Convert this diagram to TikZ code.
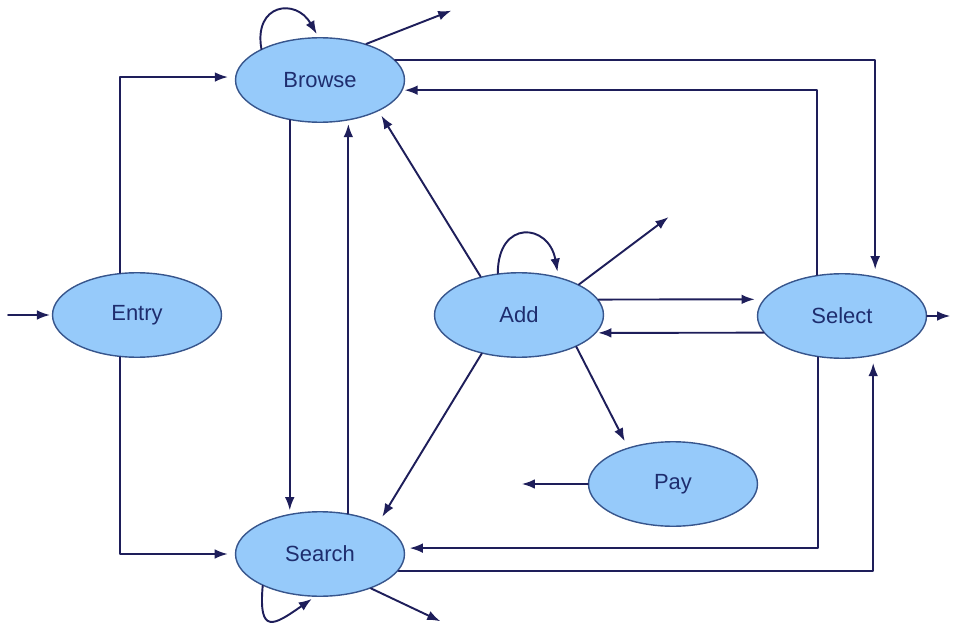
\documentclass[tikz,border=0pt]{standalone}
\usepackage{fontspec}
\setmainfont{Liberation Sans}
\usetikzlibrary{shapes.geometric,arrows.meta}
\definecolor{nen}{RGB}{150,202,250}
\definecolor{vien}{RGB}{55,85,140}
\definecolor{net}{RGB}{30,30,90}
\definecolor{chu}{RGB}{30,45,110}
\begin{document}
\begin{tikzpicture}[x=0.02cm,y=-0.02cm,font=\fontsize{12.5}{15}\selectfont, line join=round, line cap=round, >={Latex[length=7.5pt,width=5.5pt]},
	trangthai/.style={ellipse,draw=vien,fill=nen,line width=0.8pt,text=chu,minimum width=3.38cm,minimum height=1.69cm,inner sep=0pt},
	mui/.style={->,draw=net,line width=1.1pt,shorten >=#1},mui/.default=1pt]
	\useasboundingbox (0,0) rectangle (954,625);
	%%Các trạng thái
	\node[trangthai] (entry) at (137,315) {Entry};
	\node[trangthai] (browse) at (320,80) {Browse};
	\node[trangthai] (search) at (320,554) {Search};
	\node[trangthai] (add) at (519,315) {Add};
	\node[trangthai] (select) at (842,316) {Select};
	\node[trangthai] (pay) at (673,484) {Pay};
	%%Đầu vào, đầu ra
	\coordinate (vao) at (8,315);
	\coordinate (ra1) at (453,10);
	\coordinate (ra2) at (670,216);
	\coordinate (ra3) at (952,316);
	\coordinate (ra4) at (520,484);
	\coordinate (ra5) at (442,622);
	%%Các cạnh
	\draw[mui] (vao) -- (entry.west);
	\draw[mui=4pt] (entry.112) |- (browse.178);
	\draw[mui=4pt] (entry.248) |- (search.west);
	\draw[mui=2pt] (browse.152) to[out=100,in=120,looseness=2] (browse.92);
	\draw[mui] (browse.38) -- (ra1);
	\draw[mui=4pt] (browse.15) -| (select.50);
	\draw[mui] (select.121) |- (browse.-7);
	\draw[mui=2pt] (browse.233) -- (search.127);
	\draw[mui=2pt] (search.55) -- (browse.305);
	\draw[mui=3pt] (add.135) -- (browse.332);
	\draw[mui=3pt] (add.117) to[out=90,in=100,looseness=2.3] (add.44);
	\draw[mui] (add.27) -- (ra2);
	\draw[mui=5pt] (add.11) -- (select.168.5);
	\draw[mui] (select.192) -- (add.-13);
	\draw[mui=4pt] (add.226) -- (search.28);
	\draw[mui=4pt] (add.-29) -- (pay.141);
	\draw[mui] (pay.west) -- (ra4);
	\draw[mui=3pt] (select.240) |- (search.4);
	\draw[mui=4pt] (search.-12) -| (select.308);
	\draw[mui] (select.east) -- (ra3);
	\draw[mui=2pt] (search.209) to[out=-95,in=215,looseness=2.4] (search.263);
	\draw[mui] (search.-34) -- (ra5);
\end{tikzpicture}
\end{document}
